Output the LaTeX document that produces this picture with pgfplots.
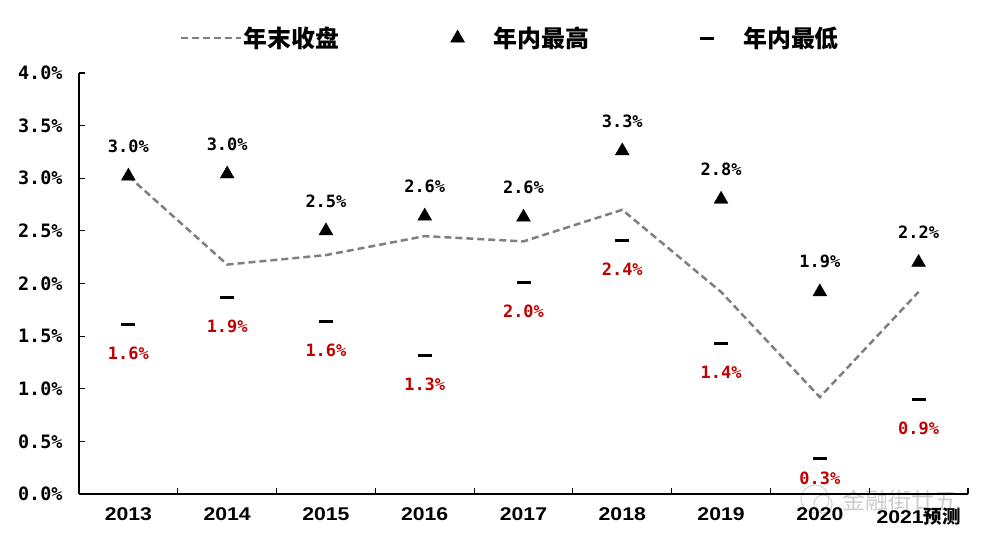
\documentclass[border=0pt]{standalone}
\usepackage{fontspec}
\usepackage{pgfplots}
\usepackage{pgfplotstable}
\pgfplotsset{compat=1.18}
\setmainfont{Liberation Sans}
\newfontfamily\cjk{Noto Sans CJK SC}
\newfontfamily\monob{DejaVu Sans Mono}
\newfontfamily\yearf{Liberation Sans}[FakeStretch=1.15]
\definecolor{closegray}{HTML}{7F7F7F}
\definecolor{lowred}{HTML}{C00000}

\pgfplotsset{
  lineleg/.style={legend image code/.code={\draw[##1] (0bp,0bp) -- (60bp,0bp);}},
  markleg/.style={legend image code/.code={\path[draw=none,fill=none] (0bp,0bp) -- (60bp,0bp); \draw[##1] plot coordinates {(26bp,0bp)};}},
}

\pgfplotstableread{
x close high low hl ll hdy ldy
0 3.02 3.02 1.61 3.0 1.6 30 -29
1 2.18 3.04 1.87 3.0 1.9 30 -29
2 2.27 2.50 1.64 2.5 1.6 30 -29
3 2.45 2.64 1.32 2.6 1.3 30 -29
4 2.40 2.63 2.01 2.6 2.0 30 -29
5 2.70 3.26 2.41 3.3 2.4 30 -29
6 1.92 2.80 1.43 2.8 1.4 30 -29
7 0.92 1.92 0.34 1.9 0.3 30 -20
8 1.92 2.20 0.90 2.2 0.9 30 -29
}\data

\begin{document}
\begin{tikzpicture}
\useasboundingbox (-79bp,-56bp) rectangle (913bp,494bp);
% watermark
\draw[gray!35, line width=1bp] (736bp,-5bp) circle (14bp);
\draw[gray!35, line width=1bp] (744bp,-10bp) circle (9bp);
\node[text=gray!40, font=\cjk\fontsize{23}{23}\selectfont, anchor=center] at (821bp,-7bp) {金融街廿五};
\begin{axis}[
  scale only axis, width=889bp, height=421bp,
  xmin=-0.5, xmax=8.5, ymin=0, ymax=4,
  axis x line*=bottom, axis y line*=left,
  axis line style={-, line width=1.2bp, black},
  tick align=inside, major tick length=6bp,
  tick style={line width=1.2bp, black},
  xtick pos=bottom, ytick pos=left,
  xtick={-0.5,0.5,...,8.5},
  x tick label as interval,
  xticklabels={2013,2014,2015,2016,2017,2018,2019,2020,{2021{\cjk\bfseries 预测}}},
  xticklabel style={font=\yearf\bfseries\fontsize{18.5}{18.5}\selectfont, yshift=-10bp},
  ytick={0,0.5,1,1.5,2,2.5,3,3.5,4},
  yticklabels={0.0\%,0.5\%,1.0\%,1.5\%,2.0\%,2.5\%,3.0\%,3.5\%,4.0\%},
  yticklabel style={font=\monob\bfseries\fontsize{18.5}{18.5}\selectfont, xshift=-13bp},
  legend style={at={(rel axis cs:0.485,1.083)}, anchor=center, draw=none, fill=none,
    legend columns=3, font=\cjk\bfseries\fontsize{24}{26}\selectfont,
    /tikz/every even column/.append style={column sep=90bp},
    nodes={inner xsep=2bp}},
  legend cell align=left,
]
\addplot[closegray, line width=2.5bp, dash pattern=on 7bp off 4bp, no marks, lineleg]
  table[x=x, y=close] {\data};
\addlegendentry{年末收盘}
\addplot[black, only marks, mark=triangle*, mark size=8bp, markleg,
  point meta=explicit symbolic,
  visualization depends on={\thisrow{hdy} \as \dy},
  nodes near coords={\pgfplotspointmeta\%},
  every node near coord/.append style={font=\monob\bfseries\fontsize{17}{17}\selectfont, text=black, anchor=center, yshift=\dy bp}]
  table[x=x, y=high, meta=hl] {\data};
\addlegendentry{年内最高}
\addplot[black, only marks, mark=-, mark size=7bp, mark options={line width=3bp}, markleg,
  point meta=explicit symbolic,
  visualization depends on={\thisrow{ldy} \as \dy},
  nodes near coords={\pgfplotspointmeta\%},
  every node near coord/.append style={font=\monob\bfseries\fontsize{17}{17}\selectfont, text=lowred, anchor=center, yshift=\dy bp}]
  table[x=x, y=low, meta=ll] {\data};
\addlegendentry{年内最低}
\end{axis}
\end{tikzpicture}
\end{document}
